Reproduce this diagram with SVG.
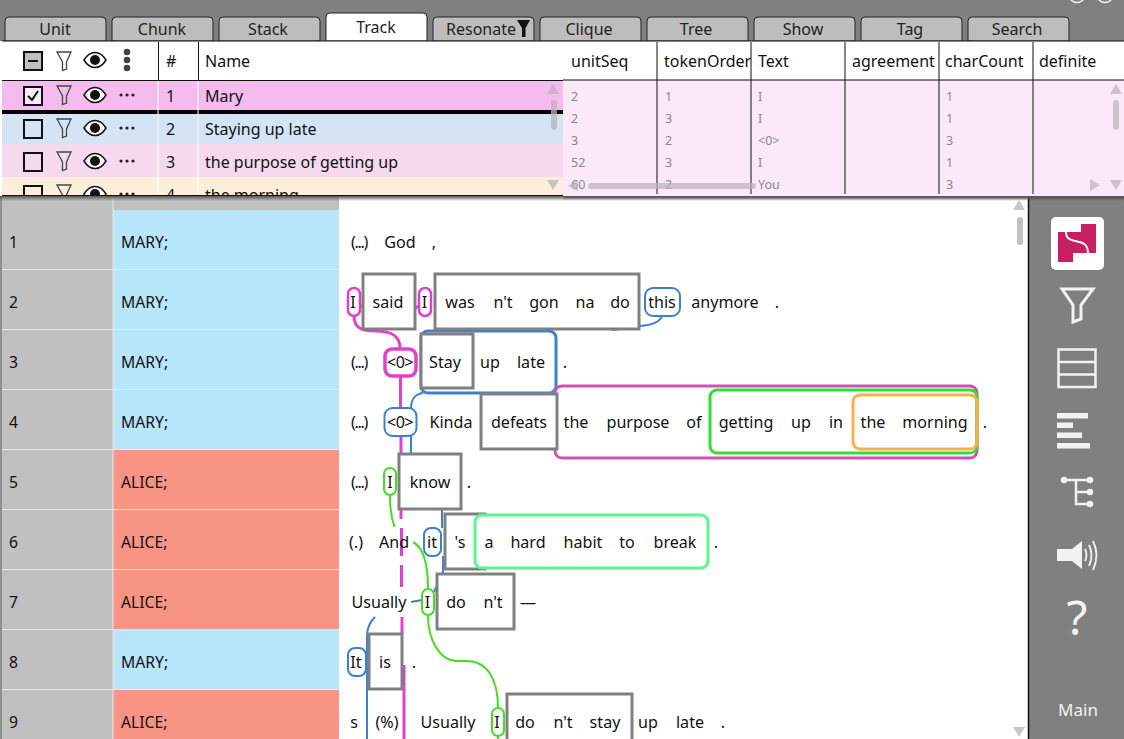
<svg xmlns="http://www.w3.org/2000/svg" width="1124" height="739" viewBox="0 0 1124 739">
<style>
text{font-family:"Noto Sans","Open Sans","DejaVu Sans",sans-serif;fill:#111}
.t{font-size:16.100px;text-anchor:middle}
.e{letter-spacing:-1.300px}
.lab{font-size:15.700px}
.tab{font-size:16px;text-anchor:middle;fill:#222}
.r{font-size:16px}
.d{font-size:12.500px;fill:#888}
.tb{fill:#bdbdbd;stroke:#222;stroke-width:1}
.box{fill:#fff;stroke:#808080;stroke-width:3}
.ring{fill:#fff}
.no{fill:none}
.pk{stroke:#e040d0;fill:none;stroke-width:3}
.bl{stroke:#3a82d0;fill:none;stroke-width:2}
.gr{stroke:#40e020;fill:none;stroke-width:2}
.sb{fill:#bdb3bb;opacity:.75}
.w{stroke:#f2f2f2;fill:none}
</style>
<defs>
<linearGradient id="sh" x1="0" y1="0" x2="0" y2="1"><stop offset="0" stop-color="#555"/><stop offset="1" stop-color="#555" stop-opacity="0"/></linearGradient>
<clipPath id="rows"><rect x="2" y="81" width="561" height="114"/></clipPath>
<clipPath id="data"><rect x="563" y="81" width="561" height="114"/></clipPath>
<g id="fil"><path d="M57 52H71L66.500 62V69L62.500 70.500V62Z" fill="none" stroke="#444" stroke-width="1.300"/></g>
<g id="eye"><path d="M84 60C90 50 100 50 106 60C100 70 90 70 84 60Z" fill="#fff" stroke="#111" stroke-width="1.500"/><circle cx="95" cy="60" r="5" fill="#111"/></g>
<g id="dots"><circle cx="121" cy="60" r="1.600" fill="#222"/><circle cx="127" cy="60" r="1.600" fill="#222"/><circle cx="133" cy="60" r="1.600" fill="#222"/></g>
</defs>

<rect width="1124" height="739" fill="#fff"/>
<rect x="0" y="0" width="1124" height="41" fill="#808080"/>
<circle cx="1077" cy="-6" r="8.500" fill="none" stroke="#eee" stroke-width="1.500"/>
<circle cx="1105" cy="-6" r="8.500" fill="none" stroke="#eee" stroke-width="1.500"/>

<g id="tabs">
<path class="tb" d="M5 41V21Q5 17 9 17H102Q106 17 106 21V41Z"/><text class="tab" x="55" y="35">Unit</text>
<path class="tb" d="M112 41V21Q112 17 116 17H209Q213 17 213 21V41Z"/><text class="tab" x="162" y="35">Chunk</text>
<path class="tb" d="M219 41V21Q219 17 223 17H316Q320 17 320 21V41Z"/><text class="tab" x="268" y="35">Stack</text>
<path d="M326 41V17Q326 13 330 13H423Q427 13 427 17V41Z" fill="#fff" stroke="#222"/><text class="tab" x="376" y="33">Track</text>
<path class="tb" d="M433 41V21Q433 17 437 17H530Q534 17 534 21V41Z"/><text class="tab" x="481" y="35">Resonate</text>
<path d="M517 20H530L525.500 28V37H522V28Z" fill="#111"/>
<path class="tb" d="M540 41V21Q540 17 544 17H637Q641 17 641 21V41Z"/><text class="tab" x="589" y="35">Clique</text>
<path class="tb" d="M647 41V21Q647 17 651 17H744Q748 17 748 21V41Z"/><text class="tab" x="696" y="35">Tree</text>
<path class="tb" d="M754 41V21Q754 17 758 17H851Q855 17 855 21V41Z"/><text class="tab" x="803" y="35">Show</text>
<path class="tb" d="M861 41V21Q861 17 865 17H958Q962 17 962 21V41Z"/><text class="tab" x="910" y="35">Tag</text>
<path class="tb" d="M968 41V21Q968 17 972 17H1065Q1069 17 1069 21V41Z"/><text class="tab" x="1017" y="35">Search</text>
</g>

<g id="rowlabels">
<rect x="0" y="196" width="339" height="543" fill="#c0c0c0"/>
<rect x="113" y="210" width="226" height="240" fill="#b6e6f8"/>
<rect x="113" y="450" width="226" height="180" fill="#f89484"/>
<rect x="113" y="630" width="226" height="60" fill="#b6e6f8"/>
<rect x="113" y="690" width="226" height="49" fill="#f89484"/>
<path d="M113 196V739M0 269.500H339M0 329.500H339M0 389.500H339M0 449.500H339M0 509.500H339M0 569.500H339M0 629.500H339M0 689.500H339" stroke="#e8e8e8" stroke-width="1" fill="none"/>
<path d="M1 196V739" stroke="#909090" stroke-width="2"/>
<text class="lab" x="9" y="248">1</text><text class="lab" x="121" y="248">MARY;</text>
<text class="lab" x="9" y="308">2</text><text class="lab" x="121" y="308">MARY;</text>
<text class="lab" x="9" y="368">3</text><text class="lab" x="121" y="368">MARY;</text>
<text class="lab" x="9" y="428">4</text><text class="lab" x="121" y="428">MARY;</text>
<text class="lab" x="9" y="488">5</text><text class="lab" x="121" y="488">ALICE;</text>
<text class="lab" x="9" y="548">6</text><text class="lab" x="121" y="548">ALICE;</text>
<text class="lab" x="9" y="608">7</text><text class="lab" x="121" y="608">ALICE;</text>
<text class="lab" x="9" y="668">8</text><text class="lab" x="121" y="668">MARY;</text>
<text class="lab" x="9" y="728">9</text><text class="lab" x="121" y="728">ALICE;</text>
</g>

<g id="connectors">
<path class="pk" d="M354 316C354 328 362 331 375 331C392 331 400 336 400 348"/>
<path d="M361 306H363M415 307H418" class="pk"/>
<path class="pk" d="M400.500 377V408M401 437V454M401 509V519M401.500 528V556M401.500 565V587M402 617V634M404 665V739"/>
<path class="bl" d="M662 316C660 322 652 325 640 326L612 330"/>
<path class="bl" d="M423 393C415 394 411 400 411 408M411 436V454M442 509V528M443 556V572L434 592M422 600L411 602M375 617C370 622 367 628 367 636V739"/>
<path class="gr" d="M390 496C390 510 392 520 394.500 527M413 542C424 548 428 565 428 588M428 616C428 640 440 661 457 661H466C488 661 498 680 498 708M498 736V739"/>
</g>

<g id="spans">
<g id="span-stay-up-late"><rect x="421" y="331" width="135" height="62" rx="7" class="no" stroke="#3a82d0" stroke-width="3"/></g>
<g id="span-purpose"><rect x="555" y="386" width="422" height="72" rx="7" class="no" stroke="#d050b8" stroke-width="3"/></g>
<g id="span-getting"><rect x="710" y="390" width="267" height="63" rx="7" class="no" stroke="#30e030" stroke-width="3"/></g>
<g id="span-morning"><rect x="853" y="395" width="124" height="54" rx="7" class="no" stroke="#f8b048" stroke-width="3"/></g>
</g>

<g id="tokens">
<g id="box-said"><rect class="box" x="363" y="274" width="52" height="55"/></g>
<g id="box-wasnt"><rect class="box" x="435" y="274" width="204" height="55"/></g>
<g id="box-stay"><rect class="box" x="421" y="334" width="52" height="54"/></g>
<g id="box-defeats"><rect class="box" x="481" y="394" width="76" height="55"/></g>
<g id="box-know"><rect class="box" x="399" y="454" width="62" height="55"/></g>
<g id="box-s"><rect class="box" x="445" y="514" width="40" height="55"/></g>
<g id="box-dont"><rect class="box" x="437" y="574" width="77" height="55"/></g>
<g id="box-is"><rect class="box" x="369" y="634" width="33" height="55"/></g>
<g id="box-dontstay"><rect class="box" x="507" y="694" width="125" height="60"/></g>
<g id="span-habit"><rect x="475" y="515" width="233" height="53" rx="7" fill="#fff" stroke="#58f890" stroke-width="3"/></g>
<g id="ring-i1"><rect x="348" y="288" width="12" height="28" rx="6" class="ring" stroke="#e040d0" stroke-width="2.500"/></g>
<g id="ring-i2"><rect x="419" y="288" width="12" height="28" rx="6" class="ring" stroke="#e040d0" stroke-width="2.500"/></g>
<g id="ring-this"><rect x="645" y="288" width="35" height="28" rx="8" class="ring" stroke="#3a82d0" stroke-width="2"/></g>
<g id="ring-zero1"><rect x="385" y="349" width="31" height="27" rx="7" class="ring" stroke="#e040d0" stroke-width="3.500"/></g>
<g id="ring-zero2"><rect x="384.500" y="408" width="32" height="28" rx="8" class="ring" stroke="#3a82d0" stroke-width="2"/></g>
<g id="ring-i5"><rect x="384" y="468" width="12" height="27" rx="6" class="ring" stroke="#40e020" stroke-width="2"/></g>
<g id="ring-it"><rect x="424" y="528" width="17" height="28" rx="7" class="ring" stroke="#3a82d0" stroke-width="2"/></g>
<g id="ring-i7"><rect x="422" y="589" width="12" height="26" rx="6" class="ring" stroke="#40e020" stroke-width="2"/></g>
<g id="ring-it8"><rect x="348" y="648" width="18" height="28" rx="7" class="ring" stroke="#3a82d0" stroke-width="2"/></g>
<g id="ring-i9"><rect x="492" y="708" width="12" height="28" rx="6" class="ring" stroke="#40e020" stroke-width="2"/></g>

<text class="t e" x="359" y="248">(...)</text><text class="t" x="400" y="248">God</text><text class="t" x="434" y="248">,</text>
<text class="t" x="353" y="308">I</text><text class="t" x="388" y="308">said</text><text class="t" x="424.500" y="308">I</text><text class="t" x="460" y="308">was</text><text class="t" x="503" y="308">n't</text><text class="t" x="544" y="308">gon</text><text class="t" x="585" y="308">na</text><text class="t" x="620" y="308">do</text><text class="t" x="662" y="308">this</text><text class="t" x="725" y="308">anymore</text><text class="t" x="777" y="308">.</text>
<text class="t e" x="359" y="368">(...)</text><text class="t" x="400" y="368" style="letter-spacing:-.5px">&lt;0&gt;</text><text class="t" x="445" y="368">Stay</text><text class="t" x="490" y="368">up</text><text class="t" x="531" y="368">late</text><text class="t" x="565" y="368">.</text>
<text class="t e" x="359" y="428">(...)</text><text class="t" x="400" y="428" style="letter-spacing:-.5px">&lt;0&gt;</text><text class="t" x="451" y="428">Kinda</text><text class="t" x="519" y="428">defeats</text><text class="t" x="576" y="428">the</text><text class="t" x="638" y="428">purpose</text><text class="t" x="694" y="428">of</text><text class="t" x="746" y="428">getting</text><text class="t" x="801" y="428">up</text><text class="t" x="836" y="428">in</text><text class="t" x="873" y="428">the</text><text class="t" x="935" y="428">morning</text><text class="t" x="985" y="428">.</text>
<text class="t e" x="359" y="488">(...)</text><text class="t" x="390" y="488">I</text><text class="t" x="430" y="488">know</text><text class="t" x="469" y="488">.</text>
<text class="t" x="356" y="548">(.)</text><text class="t" x="394" y="548">And</text><text class="t" x="432" y="548">it</text><text class="t" x="460" y="548">'s</text><text class="t" x="489" y="548">a</text><text class="t" x="528" y="548">hard</text><text class="t" x="583" y="548">habit</text><text class="t" x="627" y="548">to</text><text class="t" x="675" y="548">break</text><text class="t" x="716" y="548">.</text>
<text class="t" x="379" y="608">Usually</text><text class="t" x="427.500" y="608">I</text><text class="t" x="456" y="608">do</text><text class="t" x="493" y="608">n't</text><text class="t" x="528" y="608">—</text>
<text class="t" x="356" y="668">It</text><text class="t" x="385" y="668">is</text><text class="t" x="414" y="668">.</text>
<text class="t" x="354" y="728">s</text><text class="t" x="387" y="728">(%)</text><text class="t" x="448" y="728">Usually</text><text class="t" x="497" y="728">I</text><text class="t" x="525" y="728">do</text><text class="t" x="563" y="728">n't</text><text class="t" x="605" y="728">stay</text><text class="t" x="648" y="728">up</text><text class="t" x="690" y="728">late</text><text class="t" x="723" y="728">.</text>
</g>

<g id="main-scroll">
<path d="M1013 210L1019 200L1025 210Z" fill="#c8c8c8"/>
<rect x="1017" y="217" width="6" height="28" rx="3" fill="#c0c0c0"/>
<path d="M1013 727L1019 737L1025 727Z" fill="#c8c8c8"/>
</g>

<g id="sidebar">
<rect x="1028" y="196" width="96" height="543" fill="#808080"/>
<path d="M1028.500 196V739" stroke="#111" stroke-width="1.500"/>
<g id="icon-logo"><rect x="1051" y="217" width="53" height="53" rx="5" fill="#fff"/><path d="M1081 224H1096V253H1073V262H1058V232H1081Z" fill="#c81e64"/><path d="M1066 232C1066 247 1088 235 1088 253" fill="none" stroke="#fff" stroke-width="2"/></g>
<g id="icon-filter"><path class="w" stroke-width="3" d="M1062 289H1093L1081 305V319L1073 322V305Z"/></g>
<g id="icon-table"><path class="w" stroke-width="2.500" d="M1058.500 349.500H1095.500V387H1058.500ZM1058.500 362H1095.500M1058.500 374.500H1095.500"/></g>
<g id="icon-bars" fill="#f2f2f2"><rect x="1057" y="413" width="31" height="5.500"/><rect x="1057" y="422.500" width="16" height="5.500"/><rect x="1057" y="432.500" width="25" height="5.500"/><rect x="1057" y="443" width="33" height="5.500"/></g>
<g id="icon-tree"><path class="w" stroke-width="2.500" d="M1064 480H1090M1076 480V504H1090M1076 492H1090"/><g fill="#f2f2f2"><circle cx="1064" cy="480" r="3.200"/><circle cx="1090" cy="480" r="3.200"/><circle cx="1090" cy="492" r="3.200"/><circle cx="1090" cy="504" r="3.200"/></g></g>
<g id="icon-sound"><path d="M1057 549H1072L1082 541V569L1072 561H1057Z" fill="#f2f2f2"/><path class="w" stroke-width="1.800" d="M1085 549Q1088 555 1085 561M1089 545Q1094 555 1089 566M1093 541Q1100 555 1093 570"/></g>
<text x="1077" y="635" font-size="48" text-anchor="middle" style="fill:#f2f2f2">?</text>
<text x="1078" y="716" font-size="17" text-anchor="middle" style="fill:#f0f0f0">Main</text>
</g>

<rect x="0" y="196" width="1124" height="5" fill="url(#sh)"/>

<g id="left-table">
<rect x="2" y="41" width="561" height="154" fill="#fff"/>
<g clip-path="url(#rows)">
<rect x="2" y="81" width="561" height="30" fill="#f5bbee"/>
<rect x="2" y="114" width="561" height="30" fill="#d4e4f4"/>
<rect x="2" y="144" width="561" height="33" fill="#f5d9ee"/>
<rect x="2" y="177" width="561" height="20" fill="#fbeeda"/>
<rect x="2" y="110" width="561" height="4" fill="#000"/>
<path d="M158 81V195M198 81V195" stroke="#fff"/>
<g id="row-1"><rect x="24" y="87" width="18" height="18" fill="#fdeafb" stroke="#111" stroke-width="2"/><path d="M28 96L32 100L38 91" fill="none" stroke="#111" stroke-width="2"/><use href="#fil" y="34"/><use href="#eye" y="35"/><use href="#dots" y="35"/><text class="r" x="166" y="102">1</text><text class="r" x="205" y="102">Mary</text></g>
<g id="row-2"><rect x="24" y="120" width="18" height="18" fill="none" stroke="#111" stroke-width="2"/><use href="#fil" y="67"/><use href="#eye" y="68"/><use href="#dots" y="68"/><text class="r" x="166" y="135">2</text><text class="r" x="205" y="135">Staying up late</text></g>
<g id="row-3"><rect x="24" y="153" width="18" height="18" fill="none" stroke="#111" stroke-width="2"/><use href="#fil" y="100"/><use href="#eye" y="101"/><use href="#dots" y="101"/><text class="r" x="166" y="168">3</text><text class="r" x="205" y="168">the purpose of getting up</text></g>
<g id="row-4"><rect x="24" y="186" width="18" height="18" fill="none" stroke="#111" stroke-width="2"/><use href="#fil" y="133"/><use href="#eye" y="134"/><use href="#dots" y="134"/><text class="r" x="166" y="201">4</text><text class="r" x="205" y="201">the morning</text></g>
</g>
<g id="left-head">
<rect x="24" y="52" width="18" height="18" fill="#c0c0c0" stroke="#111" stroke-width="2"/><path d="M28 61H38" stroke="#111" stroke-width="2"/>
<use href="#fil"/><use href="#eye"/>
<circle cx="127" cy="52" r="3.300" fill="#444"/><circle cx="127" cy="60" r="3.300" fill="#444"/><circle cx="127" cy="68" r="3.300" fill="#444"/>
<text class="r" x="166" y="67">#</text><text class="r" x="205" y="67">Name</text>
<path d="M158.500 42V80M198.500 42V80" stroke="#111" stroke-width="1"/>
<path d="M2 80.500H563M2 41H563M2 195.500H563" stroke="#111" stroke-width="1.200"/>
</g>
<path d="M547 94L553 84L559 94Z" class="sb"/><rect x="551" y="100" width="6" height="30" rx="3" class="sb"/><path d="M547 180L553 190L559 180Z" class="sb"/>
</g>

<g id="right-table">
<rect x="563" y="41" width="561" height="155" fill="#fff"/>
<rect x="563" y="80" width="561" height="116" fill="#fbe9fa"/>
<path d="M563 41H1124M563 80H1124" stroke="#111" stroke-width="1.200"/>
<path d="M657 42V194M751 42V194M845 42V194M939 42V194M1033 42V194" stroke="#111" stroke-width="1"/>
<text class="r" x="571" y="67">unitSeq</text><text class="r" x="664" y="67">tokenOrder</text><text class="r" x="758" y="67">Text</text><text class="r" x="852" y="67">agreement</text><text class="r" x="945" y="67">charCount</text><text class="r" x="1039" y="67">definite</text>
<g clip-path="url(#data)">
<text class="d" x="571" y="101">2</text><text class="d" x="665" y="101">1</text><text class="d" x="758" y="101">I</text><text class="d" x="946" y="101">1</text>
<text class="d" x="571" y="123">2</text><text class="d" x="665" y="123">3</text><text class="d" x="758" y="123">I</text><text class="d" x="946" y="123">1</text>
<text class="d" x="571" y="145">3</text><text class="d" x="665" y="145">2</text><text class="d" x="758" y="145">&lt;0&gt;</text><text class="d" x="946" y="145">3</text>
<text class="d" x="571" y="167">52</text><text class="d" x="665" y="167">3</text><text class="d" x="758" y="167">I</text><text class="d" x="946" y="167">1</text>
<text class="d" x="571" y="189">60</text><text class="d" x="665" y="189">2</text><text class="d" x="758" y="189">You</text><text class="d" x="946" y="189">3</text>
</g>
<path d="M1110 94L1116 84L1122 94Z" class="sb"/><rect x="1113" y="100" width="6" height="30" rx="3" class="sb"/><path d="M1110 180L1116 190L1122 180Z" class="sb"/>
<path d="M1090 179L1100 185L1090 191Z" class="sb"/><path d="M578 180L568 186L578 191Z" class="sb"/><rect x="588" y="183" width="168" height="6" rx="3" class="sb"/>
</g>
<rect x="563" y="196" width="561" height="4" fill="url(#sh)"/>
</svg>
